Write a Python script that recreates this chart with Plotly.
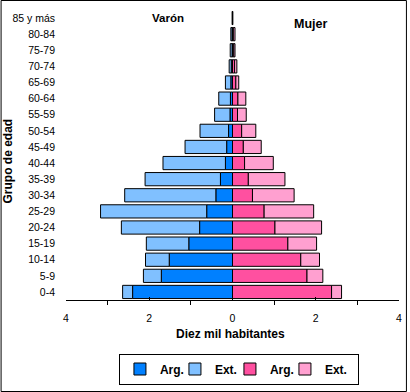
import plotly.graph_objects as go

# Age groups (bottom to top)
categories = ["0-4", "5-9", "10-14", "15-19", "20-24", "25-29", "30-34", "35-39",
              "40-44", "45-49", "50-54", "55-59", "60-64", "65-69", "70-74",
              "75-79", "80-84", "85 y más"]

# Values in "Diez mil habitantes"
varon_arg = [2.40, 1.71, 1.52, 1.05, 0.79, 0.62, 0.40, 0.29, 0.17, 0.14,
             0.095, 0.06, 0.05, 0.04, 0.03, 0.01, 0.01, 0.003]
varon_ext = [0.24, 0.43, 0.57, 1.02, 1.88, 2.55, 2.19, 1.81, 1.50, 1.00,
             0.685, 0.37, 0.28, 0.13, 0.05, 0.045, 0.03, 0.002]
mujer_arg = [2.38, 1.79, 1.64, 1.33, 1.02, 0.76, 0.48, 0.38, 0.29, 0.26,
             0.22, 0.12, 0.13, 0.08, 0.05, 0.03, 0.02, 0.003]
mujer_ext = [0.24, 0.38, 0.45, 0.69, 1.12, 1.19, 1.00, 0.88, 0.69, 0.43,
             0.34, 0.21, 0.19, 0.07, 0.055, 0.03, 0.04, 0.002]

x_tickvals = [-4, -2, 0, 2, 4]
x_ticktext = ["4", "2", "0", "2", "4"]
x_minor_ticks = [-3, -1, 1, 3]

FONT = "Liberation Sans, Arial, sans-serif"
line = dict(color="black", width=1)

fig = go.Figure()
fig.add_trace(go.Bar(y=categories, x=[-v for v in varon_arg], orientation="h",
                     name="Arg.", marker=dict(color="#0080FF", line=line),
                     customdata=varon_arg, hovertemplate="%{y}: %{customdata}<extra>Varón Arg.</extra>"))
fig.add_trace(go.Bar(y=categories, x=[-v for v in varon_ext], orientation="h",
                     name="Ext.", marker=dict(color="#80C0FF", line=line),
                     customdata=varon_ext, hovertemplate="%{y}: %{customdata}<extra>Varón Ext.</extra>"))
fig.add_trace(go.Bar(y=categories, x=mujer_arg, orientation="h",
                     name="Arg.", marker=dict(color="#FF50A0", line=line),
                     hovertemplate="%{y}: %{x}<extra>Mujer Arg.</extra>"))
fig.add_trace(go.Bar(y=categories, x=mujer_ext, orientation="h",
                     name="Ext.", marker=dict(color="#FFA0D0", line=line),
                     legendwidth=28,
                     hovertemplate="%{y}: %{x}<extra>Mujer Ext.</extra>"))

L, R, T, B = 66, 8, 10, 92
W, H = 410, 392
pw, ph = W - L - R, H - T - B

def px(xp):
    return (xp - L) / pw

def py(yp):
    return (H - B - yp) / ph

def ann(text, x, y, size, angle=0):
    return dict(text=text, x=px(x), y=py(y), xref="paper", yref="paper",
                xanchor="center", yanchor="middle", textangle=angle,
                showarrow=False, font=dict(size=size, weight="bold"))

fig.update_layout(
    width=W, height=H, autosize=False,
    margin=dict(l=L, r=R, t=T, b=B, pad=0),
    barmode="relative", bargap=0.18,
    paper_bgcolor="white", plot_bgcolor="white",
    font=dict(family=FONT, color="black", size=11),
    xaxis=dict(range=[-4, 4], tickmode="array", tickvals=x_tickvals, ticktext=x_ticktext,
               ticks="inside", ticklen=3, tickcolor="black", showline=True,
               linecolor="black", linewidth=1, showgrid=False, zeroline=False,
               tickfont=dict(size=10.5), ticklabelstandoff=8,
               minor=dict(tickmode="array", tickvals=x_minor_ticks, ticks="outside",
                          ticklen=4, tickcolor="black", showgrid=False),
               fixedrange=True),
    yaxis=dict(type="category", categoryorder="array", categoryarray=categories,
               range=[-0.5, len(categories) - 0.5], showline=False, ticks="",
               showgrid=False, zeroline=False, tickfont=dict(size=10.5),
               ticklabelstandoff=10, fixedrange=True),
    showlegend=True,
    legend=dict(orientation="h", x=px(240.5), xanchor="center", y=py(369), yanchor="middle",
                bordercolor="black", borderwidth=1, bgcolor="white",
                font=dict(size=12, weight="bold"), itemwidth=30, traceorder="normal",
                entrywidth=10, entrywidthmode="pixels"),
    annotations=[
        ann("Grupo de edad", 7, 161, 12, -90),
        ann("Diez mil habitantes", 232, 334, 12),
        ann("Varón", 169, 18, 11.5),
        ann("Mujer", 313, 23.5, 12.5),
    ],
    shapes=[dict(type="rect", xref="paper", yref="paper",
                 x0=px(0.5), x1=px(409.5), y0=py(391.5), y1=py(0.5),
                 line=dict(color="black", width=1), layer="above")],
)

fig.write_html("out.html", config={"displayModeBar": False},
               post_script="document.body.style.margin='0';document.body.style.overflow='hidden';")
